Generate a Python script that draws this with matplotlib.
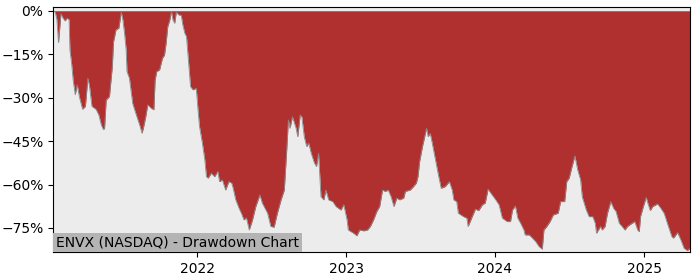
import matplotlib
matplotlib.use("Agg")
import matplotlib.pyplot as plt
import matplotlib.dates as mdates
from matplotlib.ticker import PercentFormatter
import pandas as pd

# ENVX drawdown (percent below running peak)
dates_2021 = ["2021-01-12", "2021-01-17", "2021-01-21", "2021-01-25", "2021-01-31", "2021-02-05",
              "2021-02-10", "2021-02-15", "2021-02-20", "2021-02-22", "2021-02-26", "2021-03-02",
              "2021-03-07", "2021-03-12", "2021-03-17", "2021-03-25", "2021-04-01", "2021-04-07",
              "2021-04-11", "2021-04-17", "2021-04-27", "2021-05-04", "2021-05-10", "2021-05-15",
              "2021-05-18", "2021-05-22", "2021-05-30", "2021-06-06", "2021-06-09", "2021-06-15",
              "2021-06-22", "2021-06-25", "2021-06-28", "2021-07-02", "2021-07-06", "2021-07-10",
              "2021-07-12", "2021-07-18", "2021-07-26", "2021-08-04", "2021-08-12", "2021-08-18",
              "2021-08-22", "2021-08-27", "2021-09-01", "2021-09-10", "2021-09-16", "2021-09-19",
              "2021-09-23", "2021-09-30", "2021-10-07", "2021-10-12", "2021-10-16", "2021-10-20",
              "2021-10-25", "2021-10-29", "2021-11-02", "2021-11-06", "2021-11-10", "2021-11-17",
              "2021-11-22", "2021-11-26", "2021-12-01", "2021-12-05", "2021-12-11", "2021-12-15",
              "2021-12-21", "2021-12-29"]
dd_2021 = [0, -0.5, -3, -11, -1, -2.5,
           -3.5, -2.6, -3, -13.5, -18, -24,
           -29, -25.6, -29.6, -34, -33, -23.3,
           -26, -33, -34, -36, -39.4, -41,
           -40.6, -30.8, -29.6, -19.3, -10.7, -6.6,
           -6, -3.2, -0.5, -3.2, -7.8, -13.5,
           -21, -23.3, -32, -36, -39.4, -42.3,
           -40, -36.6, -32.5, -33.7, -34.2, -23.9,
           -21, -20.4, -16.4, -15.3, -11.2, -5.5,
           -3.2, -0.3, -3.2, -4.3, -0.5, -1.5,
           -1.5, -4.9, -7.8, -8.9, -19.3, -26.2,
           -27.3, -26.8]

dates_2022 = ["2022-01-03", "2022-01-06", "2022-01-13", "2022-01-19", "2022-01-23", "2022-01-27",
              "2022-02-04", "2022-02-12", "2022-02-20", "2022-02-24", "2022-03-03", "2022-03-11",
              "2022-03-19", "2022-03-26", "2022-03-29", "2022-04-05", "2022-04-13", "2022-04-19",
              "2022-04-25", "2022-05-01", "2022-05-08", "2022-05-16", "2022-05-24", "2022-06-03",
              "2022-06-09", "2022-06-22", "2022-06-30", "2022-07-08", "2022-07-16", "2022-07-25",
              "2022-08-02", "2022-08-08", "2022-08-12", "2022-08-16", "2022-08-22", "2022-08-31",
              "2022-09-04", "2022-09-10", "2022-09-14", "2022-09-20", "2022-09-26", "2022-10-01",
              "2022-10-07", "2022-10-15", "2022-10-20", "2022-10-25", "2022-10-31", "2022-11-07",
              "2022-11-12", "2022-11-19", "2022-11-29", "2022-12-07", "2022-12-19", "2022-12-26"]
dd_2022 = [-35.4, -40, -45.7, -51.5, -57.3, -57.8,
           -56.1, -57.3, -55.5, -59, -58.4, -61.9,
           -59, -59.5, -61, -65.3, -68.2, -70,
           -72.2, -71.5, -75.7, -72.2, -67.6, -63.6,
           -66.4, -69.9, -74.5, -74.7, -69.9, -65.3,
           -61.9, -48, -37.7, -40.6, -36.6, -40.6,
           -43.5, -36, -36.6, -43.5, -46.9, -45.7,
           -49.2, -52.6, -53.8, -49.2, -64.2, -65.3,
           -61.9, -65.3, -65.9, -67.6, -68.8, -67]

dates_2023 = ["2023-01-03", "2023-01-06", "2023-01-19", "2023-01-27", "2023-02-03", "2023-02-13",
              "2023-02-22", "2023-03-01", "2023-03-09", "2023-03-17", "2023-03-24", "2023-03-31",
              "2023-04-07", "2023-04-14", "2023-04-21", "2023-04-28", "2023-05-05", "2023-05-12",
              "2023-05-22", "2023-05-26", "2023-06-07", "2023-06-15", "2023-06-22", "2023-06-26",
              "2023-06-30", "2023-07-07", "2023-07-17", "2023-07-21", "2023-07-26", "2023-07-31",
              "2023-08-08", "2023-08-16", "2023-08-22", "2023-09-01", "2023-09-11", "2023-09-18",
              "2023-09-22", "2023-09-29", "2023-10-03", "2023-10-16", "2023-10-24", "2023-10-27",
              "2023-11-06", "2023-11-14", "2023-11-22", "2023-12-01", "2023-12-08", "2023-12-15",
              "2023-12-22"]
dd_2023 = [-72.2, -75.7, -76.8, -77.7, -75.7, -76,
           -75.7, -74.5, -72.2, -69.3, -67.6, -61.9,
           -62.4, -61.9, -64.2, -67.6, -64.7, -65.3,
           -64.7, -62.4, -61.9, -60.7, -59.5, -57.3,
           -52.1, -46.9, -40.6, -43.5, -42.3, -45.7,
           -51.5, -57.3, -61.3, -60.7, -59, -61.9,
           -65.3, -65.9, -69.9, -71.1, -71.6, -74.5,
           -71.1, -68.5, -69, -67, -66.4, -61.6,
           -63]

dates_2024 = ["2024-01-03", "2024-01-11", "2024-01-19", "2024-01-31", "2024-02-08", "2024-02-13",
              "2024-02-20", "2024-02-26", "2024-03-04", "2024-03-12", "2024-03-15", "2024-03-25",
              "2024-04-02", "2024-04-10", "2024-04-18", "2024-04-26", "2024-04-30", "2024-05-07",
              "2024-05-15", "2024-05-23", "2024-06-04", "2024-06-10", "2024-06-20", "2024-06-25",
              "2024-07-01", "2024-07-08", "2024-07-15", "2024-07-22", "2024-07-29", "2024-08-02",
              "2024-08-12", "2024-08-19", "2024-08-28", "2024-09-03", "2024-09-06", "2024-09-16",
              "2024-09-20", "2024-09-27", "2024-10-03", "2024-10-11", "2024-10-18", "2024-10-24",
              "2024-11-01", "2024-11-08", "2024-11-15", "2024-11-21", "2024-12-02", "2024-12-09",
              "2024-12-16", "2024-12-20", "2024-12-23", "2024-12-30"]
dd_2024 = [-65.3, -67, -71.6, -72.8, -72.8, -68.8,
           -67.4, -71.6, -73.4, -75.7, -77.4, -77.4,
           -78.5, -79.7, -81.4, -82.3, -75.7, -74.5,
           -72.8, -70.5, -69.9, -65.9, -65.9, -59,
           -57.8, -53.8, -50.1, -55, -58.4, -64.2,
           -68.8, -71.1, -71.1, -73.4, -76.8, -74.5,
           -75.7, -74.5, -69.9, -65.9, -68.2, -69.3,
           -73.4, -74.5, -75.7, -74.5, -73.4, -72.8,
           -75.7, -76.3, -71.1, -67.6]

dates_2025 = ["2025-01-06", "2025-01-10", "2025-01-16", "2025-01-22", "2025-02-03", "2025-02-11",
              "2025-02-19", "2025-02-27", "2025-03-10", "2025-03-14", "2025-03-24", "2025-04-01",
              "2025-04-09", "2025-04-17", "2025-04-24"]
dd_2025 = [-64.4, -66.4, -69, -67.6, -66.7, -68.2,
           -69.9, -73.4, -78, -78.5, -76.6, -79.1,
           -82, -82.8, -82]

dates = pd.to_datetime(dates_2021 + dates_2022 + dates_2023 + dates_2024 + dates_2025)
drawdown = [v / 100 for v in dd_2021 + dd_2022 + dd_2023 + dd_2024 + dd_2025]

fig = plt.figure(figsize=(7, 2.8), dpi=100)
ax = fig.add_axes([0.076, 0.099, 0.910, 0.875])
ax.set_facecolor('#ececec')

ax.fill_between(dates, drawdown, 0, color='#b03030', linewidth=0)
ax.plot(dates, drawdown, color='#8a8a8a', linewidth=0.6)

ax.set_xlim(dates[0], dates[-1])
ax.set_ylim(-0.834, 0.012)
ax.set_yticks([0, -0.15, -0.30, -0.45, -0.60, -0.75])
ax.yaxis.set_major_formatter(PercentFormatter(1.0, decimals=0))
ax.xaxis.set_major_locator(mdates.YearLocator())
ax.xaxis.set_major_formatter(mdates.DateFormatter('%Y'))
ax.tick_params(labelsize=10)

# label box sits in the lower-left corner of the axes
ax.text(0.0045, 0.012, 'ENVX (NASDAQ) - Drawdown Chart', transform=ax.transAxes,
        fontsize=10, va='bottom', ha='left',
        bbox=dict(facecolor='#b4b4b4', edgecolor='none', pad=2))

fig.savefig('out.png', dpi=100)
